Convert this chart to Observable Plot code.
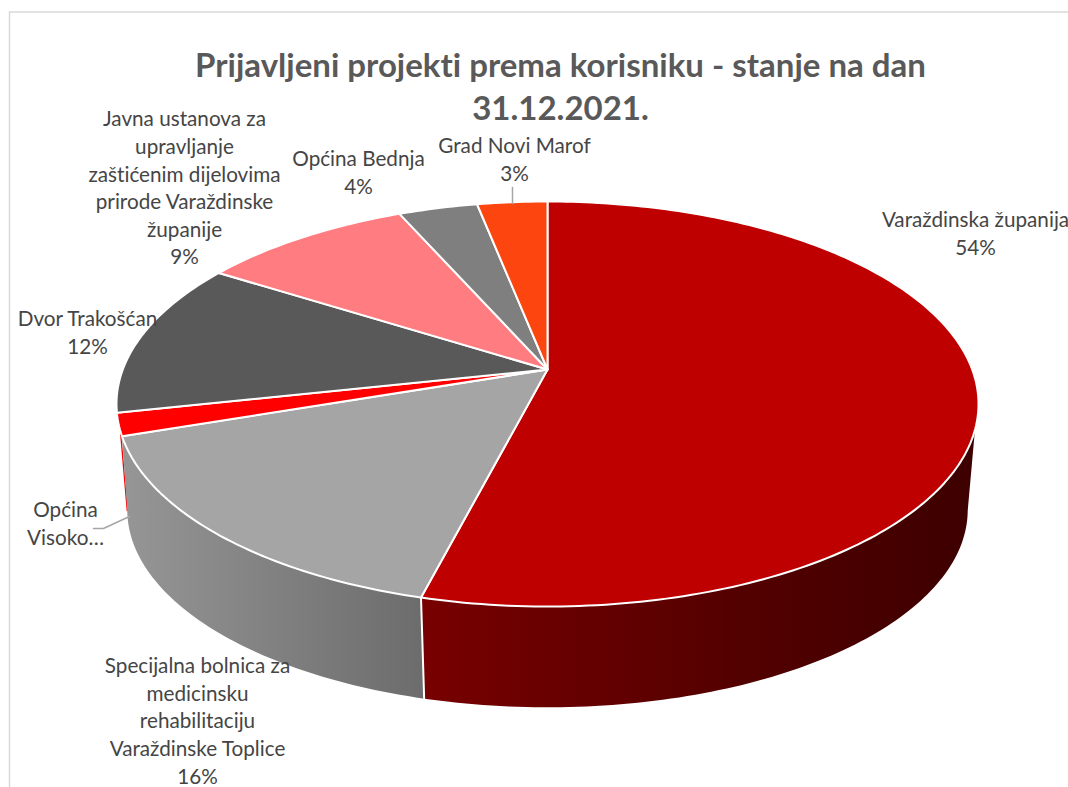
<!DOCTYPE html>
<html>
<head>
<meta charset="utf-8">
<script src="https://cdn.jsdelivr.net/npm/d3@7"></script>
<script src="https://cdn.jsdelivr.net/npm/@observablehq/plot@0.6"></script>
<style>
html,body{margin:0;padding:0;background:#fff;overflow:hidden}
svg{display:block}
svg text{font-variant-ligatures:none}
</style>
</head>
<body>
<div id="chart"></div>
<script>
// Data, clockwise from 12 o'clock
const categories = ["Varaždinska županija","Specijalna bolnica za medicinsku rehabilitaciju Varaždinske Toplice","Općina Visoko","Dvor Trakošćan","Javna ustanova za upravljanje zaštićenim dijelovima prirode Varaždinske županije","Općina Bednja","Grad Novi Marof"];
const values = [54, 15.8, 1.8, 12.4, 9.4, 3.5, 3.1];
const topColors = ["#bf0000","#a5a5a5","#ff0000","#595959","#ff7c80","#7f7f7f","#fd450f"];
const labelLines = [
  ["Varaždinska županija"],
  ["Specijalna bolnica za","medicinsku","rehabilitaciju","Varaždinske Toplice"],
  ["Općina","Visoko…"],
  ["Dvor Trakošćan"],
  ["Javna ustanova za","upravljanje","zaštićenim dijelovima","prirode Varaždinske","županije"],
  ["Općina Bednja"],
  ["Grad Novi Marof"]
];
const showPercent = [true,true,false,true,true,true,true];
const titleLines = "Prijavljeni projekti prema korisniku - stanje na dan\n31.12.2021.";

// Layout
const W = 1068, H = 787;
const labelCenters = [[975,231.5],[197,719],[65,521.5],[87,330.5],[184,186],[358,170.5],[514,157.5]];
const cx = 547, cy = 369, a = 424.7, b = 196.6, k = 0.1704, depthScale = 0.975, depthShift = 116;

// Perspective view of a circle: angle in degrees clockwise from the top
function rim(deg, lower) {
  const t = deg * Math.PI / 180, X = Math.sin(t), Y = Math.cos(t), w = 1 + k * Y;
  const px = cx + a * X / w, py = cy - b * Y / w;
  return lower ? {x: cx + depthScale * (px - cx), y: depthScale * py + depthShift} : {x: px, y: py};
}
const arc = (from, to, lower) => {
  const n = Math.max(2, Math.ceil(Math.abs(to - from)));
  return d3.range(n + 1).map(i => rim(from + (to - from) * i / n, lower));
};
const cum = d3.cumsum(values);
const startDeg = i => (i === 0 ? 0 : cum[i - 1]) * 3.6;
const endDeg = i => cum[i] * 3.6;

const center = {x: cx, y: cy};
const faces = values.map((v, i) => [center, ...arc(startDeg(i), endDeg(i), false), center]);

// Visible wall pieces
const wallRed = [...arc(100, endDeg(0), true), ...arc(endDeg(0), 107, false)];
const wallGrey = [...arc(endDeg(0), 260, true), ...arc(endDeg(1), endDeg(0), false)];
const wallSliver = [rim(endDeg(1) + 1.3, false), rim(260, true)];
const wallSeam = [rim(endDeg(0), false), rim(endDeg(0), true)];

const leaders = [
  [{x:512,y:187},{x:512,y:203}],
  [{x:129,y:516},{x:103,y:528},{x:93,y:528}]
];

const gradients = () => {
  const defs = d3.create("svg:defs");
  const add = (id, stops) => {
    const g = defs.append("linearGradient").attr("id", id);
    stops.forEach(([o, c]) => g.append("stop").attr("offset", o).attr("stop-color", c));
  };
  add("sideGrey", [[0, "#969696"], [1, "#6c6c6c"]]);
  add("sideRed", [[0, "#780000"], [0.6, "#520000"], [1, "#3d0000"]]);
  return defs.node();
};

const labelData = categories.map((c, i) => ({
  text: [...labelLines[i], ...(showPercent[i] ? [Math.round(values[i]) + "%"] : [])].join("\n"),
  dx: labelCenters[i][0], dy: labelCenters[i][1]
}));

const labelMarks = labelData.map(d => Plot.text([d.text], {
  text: t => t, frameAnchor: "top-left", dx: d.dx, dy: d.dy,
  textAnchor: "middle", lineAnchor: "middle", lineHeight: 1.333,
  fontFamily: "Lato", fontSize: 20.7, fill: "#454545"
}));

const plot = Plot.plot({
  width: W, height: H,
  marginTop: 0, marginRight: 0, marginBottom: 0, marginLeft: 0,
  x: {domain: [0, W], range: [0, W], axis: null},
  y: {domain: [0, H], range: [0, H], axis: null},
  marks: [
    gradients,
    Plot.ruleY([11.5], {x1: 9, x2: W, stroke: "#d9d9d9", strokeWidth: 1.5}),
    Plot.ruleX([9], {y1: 11.5, y2: H, stroke: "#d9d9d9", strokeWidth: 1.5}),
    Plot.line(wallSliver, {x: "x", y: "y", stroke: "#ff0000", strokeWidth: 1.3}),
    Plot.line(wallGrey, {x: "x", y: "y", fill: "url(#sideGrey)", stroke: "none"}),
    Plot.line(wallRed, {x: "x", y: "y", fill: "url(#sideRed)", stroke: "none"}),
    Plot.line(wallSeam, {x: "x", y: "y", stroke: "white", strokeWidth: 2}),
    ...faces.map((f, i) => Plot.line(f, {x: "x", y: "y", fill: topColors[i], stroke: "white", strokeWidth: 2, strokeLinejoin: "round"})),
    ...leaders.map(l => Plot.line(l, {x: "x", y: "y", stroke: "#a6a6a6", strokeWidth: 1.5})),
    Plot.text([titleLines], {
      text: t => t, frameAnchor: "top-left", dx: 560, dy: 84,
      textAnchor: "middle", lineAnchor: "middle", lineHeight: 1.3,
      fontFamily: "Lato", fontWeight: 700, fontSize: 33, fill: "#595959"
    }),
    ...labelMarks
  ]
});
document.getElementById("chart").appendChild(plot);
</script>
</body>
</html>
